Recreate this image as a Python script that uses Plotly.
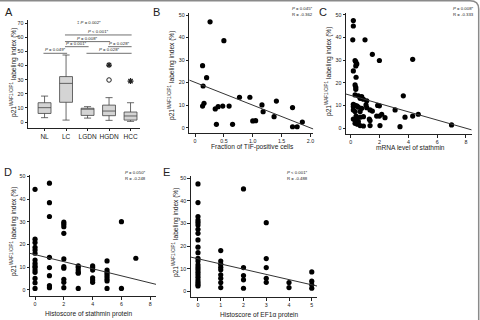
import plotly.graph_objects as go

# ---------------- DATA ----------------
A_groups = ["NL", "LC", "LGDN", "HGDN", "HCC"]
A_lower = [3.1, 1.4, 2.8, 1.2, 0.5]
A_q1 = [6.1, 14.0, 4.7, 4.5, 1.4]
A_median = [10.2, 27.4, 9.2, 7.8, 4.3]
A_q3 = [13.7, 32.2, 9.8, 12.0, 7.1]
A_upper = [18.4, 47.5, 10.9, 17.3, 13.7]
A_star_group = ["HGDN", "HCC"]
A_star_value = [40.4, 29.0]
A_circle_group = ["HGDN"]
A_circle_value = [29.8]
A_cmp_from = ["LC", "LC", "LC", "HGDN", "NL", "LGDN"]
A_cmp_to = ["HCC", "HGDN", "LGDN", "HCC", "LC", "HCC"]
A_cmp_label = ["P < 0.001*", "P = 0.008*", "P = 0.001*", "P = 0.028*", "P = 0.049*", "P = 0.028*"]
A_cmp_level = [61.7, 57.0, 53.4, 53.4, 48.7, 48.7]
A_top_label = "‡ P = 0.002*"
A_top_level = 70.2

B_x = [0.26, 0.50, 0.13, 0.20, 0.14, 0.155, 0.13, 0.35, 0.40, 0.48, 0.59, 0.37, 0.65,
       0.77, 0.95, 1.00, 1.05, 1.16, 1.18, 1.41, 1.37, 1.69, 1.69, 1.77, 1.86]
B_y = [47.0, 38.6, 27.5, 22.2, 18.5, 10.8, 9.6, 8.3, 9.3, 9.6, 9.6, 1.5, 1.5,
       13.5, 13.5, 3.0, 3.1, 10.1, 7.1, 11.8, 4.9, 8.9, 0.4, 0.4, 2.5]
B_fit = [20.1, -10.1]  # intercept, slope
B_stats = ["P = 0.045*", "R = -0.362"]

C_x = [0.18, 0.18, 0.14, 0.99, 1.50, 1.99, 4.30, 0.30, 0.35, 0.42, 0.35, 0.18, 0.37,
       0.30, 0.35, 0.35, 0.30, 0.53, 0.76, 3.65, 0.88, 0.65, 1.11, 0.18, 0.30, 0.42,
       0.18, 0.53, 0.76, 1.06, 1.11, 1.34, 1.50, 1.87, 1.99, 3.08, 0.18, 0.30, 0.65,
       0.37, 0.65, 0.88, 0.42, 0.18, 0.30, 0.53, 0.30, 0.46, 0.65, 0.88, 1.34, 1.29,
       1.34, 1.80, 1.99, 2.15, 2.38, 2.03, 3.42, 3.77, 4.30, 4.69, 7.00]
C_y = [47.5, 45.1, 39.0, 39.0, 32.6, 29.9, 30.4, 29.9, 29.3, 28.4, 27.5, 25.3, 22.5,
       19.1, 18.1, 17.2, 14.7, 14.3, 14.0, 14.3, 12.8, 13.2, 12.1, 10.6, 10.1, 9.9,
       9.6, 9.3, 8.8, 10.3, 9.1, 8.1, 7.6, 10.1, 9.9, 8.1, 8.1, 7.4, 7.4,
       5.4, 4.9, 5.1, 4.1, 4.1, 3.4, 2.9, 2.2, 1.8, 1.2, 1.0, 1.2, 4.1,
       3.4, 5.4, 5.4, 6.2, 4.7, 1.2, 0.7, 4.9, 5.4, 6.2, 1.5]
C_fit = [14.5, -1.81]
C_stats = ["P = 0.008*", "R = -0.333"]

D_x = [0] * 15 + [1] * 8 + [2] * 10 + [3] * 6 + [4] * 6 + [5] * 8 + [6] * 2 + [7]
D_y = [44.4, 22.4, 20.9, 18.8, 17.6, 16.2, 13.2, 11.8, 10.6, 10.0, 8.8, 7.8, 5.1, 3.2, 0.7,
       47.1, 38.5, 32.4, 14.4, 9.9, 6.3, 1.9, 1.0,
       29.9, 29.0, 27.9, 25.0, 13.7, 10.3, 9.6, 4.7, 3.4, 1.0,
       10.6, 9.9, 8.8, 7.8, 7.4, 0.7,
       10.6, 9.9, 8.8, 5.4, 4.4, 3.4,
       12.8, 8.8, 7.8, 6.9, 5.9, 4.9, 4.0, 0.7,
       30.1, 0.7,
       14.0]
D_fit = [15.6, -1.56]
D_stats = ["P = 0.050*", "R = -0.248"]

E_x = [0] * 23 + [1] * 9 + [2] * 5 + [3] * 5 + [4] * 2 + [5] * 4
E_y = [47.5, 39.3, 33.1, 31.6, 30.6, 29.4, 27.5, 25.7, 22.8, 19.6, 17.2, 14.7, 13.5,
       11.8, 10.6, 9.6, 8.5, 7.4, 6.3, 5.1, 4.1, 3.2, 2.5,
       18.1, 13.5, 12.1, 10.7, 9.6, 7.4, 5.9, 4.0, 1.8,
       45.3, 10.6, 7.1, 5.2, 1.5,
       30.4, 14.6, 10.6, 5.9, 4.1,
       4.0, 1.8,
       8.7, 4.6, 3.0, 1.5]
E_fit = [14.5, -2.3]
E_stats = ["P < 0.001*", "R = -0.488"]

Y_TITLE = "p21<sup>WAF1/CIP1</sup> labeling index (%)"

# ---------------- FIGURE ----------------
W, H = 480, 320
FONT = "Liberation Sans, Arial, sans-serif"
INK = "#222222"


def px(x):
    return x / W


def py(y):
    return 1 - y / H


fig = go.Figure()

panels = {
    # name: (x domain px, y domain px (top,bottom), xrange, yrange)
    "A": ((28, 140), (20, 127.7), [-0.77, 4.44], [-4.0, 72.3]),
    "B": ((189.3, 313.3), (13, 133.3), [-0.1, 2.05], [-2.5, 50.9]),
    "C": ((346, 471.7), (13.3, 134.3), [-0.33, 8.4], [-2.65, 50.7]),
    "D": ((30, 156), (175, 296), [-0.35, 8.4], [-2.65, 50.7]),
    "E": ((190.7, 317), (176, 297.3), [-0.32, 5.23], [-2.5, 51]),
}
axis_ids = {"A": "", "B": "2", "C": "3", "D": "4", "E": "5"}

base_axis = dict(showline=True, linecolor=INK, linewidth=1, ticks="outside",
                 ticklen=2.5, tickwidth=1, tickcolor=INK, showgrid=False,
                 zeroline=False, tickfont=dict(family=FONT, size=5.3, color=INK))

xticks = {
    "B": ([0, 0.5, 1.0, 1.5, 2.0], ["0", "0.5", "1.0", "1.5", "2.0"]),
    "C": ([0, 2, 4, 6, 8], ["0", "2", "4", "6", "8"]),
    "D": ([0, 2, 4, 6, 8], ["0", "2", "4", "6", "8"]),
    "E": ([0, 1, 2, 3, 4, 5], ["0", "1", "2", "3", "4", "5"]),
}

for name, (xd, yd, xr, yr) in panels.items():
    sid = axis_ids[name]
    xa = dict(base_axis, domain=[px(xd[0]), px(xd[1])], range=xr,
              anchor="y" + sid)
    ya = dict(base_axis, domain=[py(yd[1]), py(yd[0])], range=yr,
              anchor="x" + sid)
    if name == "A":
        xa.update(type="category", categoryorder="array", categoryarray=A_groups,
                  tickfont=dict(family=FONT, size=6.5, color=INK))
        ya.update(tickvals=list(range(0, 71, 10)))
    else:
        xa.update(tickvals=xticks[name][0], ticktext=xticks[name][1])
        ya.update(tickvals=list(range(0, 51, 10)))
    fig.layout["xaxis" + sid] = xa
    fig.layout["yaxis" + sid] = ya

# Panel A box plot
fig.add_trace(go.Box(
    x=A_groups, q1=A_q1, median=A_median, q3=A_q3,
    lowerfence=A_lower, upperfence=A_upper, boxpoints=False,
    fillcolor="#d4d4d4", line=dict(color="#444444", width=0.8),
    width=0.6, whiskerwidth=0.55, xaxis="x", yaxis="y", showlegend=False))
fig.add_trace(go.Scatter(
    x=A_star_group, y=A_star_value, mode="markers", xaxis="x", yaxis="y",
    marker=dict(symbol="asterisk-open", size=5, color=INK,
                line=dict(color=INK, width=1.2)),
    showlegend=False))
fig.add_trace(go.Scatter(
    x=A_circle_group, y=A_circle_value, mode="markers", xaxis="x", yaxis="y",
    marker=dict(symbol="circle-open", size=4.5, color=INK,
                line=dict(color=INK, width=1)),
    showlegend=False))

small = dict(family=FONT, size=4.3, color=INK)
for f, t, lab, lev in zip(A_cmp_from, A_cmp_to, A_cmp_label, A_cmp_level):
    i0, i1 = A_groups.index(f), A_groups.index(t)
    fig.add_shape(type="line", xref="x", yref="y", x0=i0 - 0.05, x1=i1 + 0.05,
                  y0=lev, y1=lev, line=dict(color="#333333", width=0.7))
    fig.add_annotation(x=(i0 + i1) / 2, y=lev, xref="x", yref="y",
                       text=lab.replace("P", "<i>P</i>", 1), showarrow=False,
                       xanchor="center", yanchor="bottom", font=small, yshift=-1)
fig.add_annotation(x=2.05, y=A_top_level, xref="x", yref="y",
                   text=A_top_label.replace("P", "<i>P</i>", 1), showarrow=False,
                   xanchor="center", yanchor="middle", font=small)

# Scatter panels
scatter = {"B": (B_x, B_y, B_fit, B_stats), "C": (C_x, C_y, C_fit, C_stats),
           "D": (D_x, D_y, D_fit, D_stats), "E": (E_x, E_y, E_fit, E_stats)}
stat_pos = {"B": (302, 12), "C": (463, 12), "D": (135, 175), "E": (297, 175)}
for name, (xs, ys, fit, stats) in scatter.items():
    sid = axis_ids[name]
    xr = panels[name][2]
    fig.add_trace(go.Scatter(
        x=xs, y=ys, mode="markers", xaxis="x" + sid, yaxis="y" + sid,
        marker=dict(color="black", size=5.2), showlegend=False))
    lx = [xr[0], xr[1]]
    ly = [fit[0] + fit[1] * v for v in lx]
    fig.add_trace(go.Scatter(
        x=lx, y=ly, mode="lines", xaxis="x" + sid, yaxis="y" + sid,
        line=dict(color="#333333", width=1), showlegend=False, cliponaxis=True))
    sx, sy = stat_pos[name]
    fig.add_annotation(x=px(sx), y=py(sy), xref="paper", yref="paper",
                       text=stats[0].replace("P", "<i>P</i>", 1) + "<br>" + stats[1],
                       showarrow=False, align="left", xanchor="center",
                       yanchor="middle", font=small)

# Panel letters
for letter, (lx, ly) in {"A": (9, 12), "B": (156, 12), "C": (323, 12),
                         "D": (8, 172), "E": (166, 172)}.items():
    fig.add_annotation(x=px(lx), y=py(ly), xref="paper", yref="paper", text=letter,
                       showarrow=False, xanchor="center", yanchor="middle",
                       font=dict(family=FONT, size=11, color=INK))

# Axis titles
tfont = dict(family=FONT, size=6.6, color=INK)
for (tx, ty) in [(13, 73), (171, 76), (328, 72), (13, 232), (175, 233)]:
    fig.add_annotation(x=px(tx), y=py(ty), xref="paper", yref="paper", text=Y_TITLE,
                       textangle=-90, showarrow=False, xanchor="center",
                       yanchor="middle", font=tfont)
for text, (tx, ty) in [("Fraction of TIF-positive cells", (252, 146.5)),
                       ("mRNA level of stathmin", (410, 147.5)),
                       ("Histoscore of stathmin protein", (89, 313.5)),
                       ("Histoscore of EF1α protein", (259, 314.5))]:
    fig.add_annotation(x=px(tx), y=py(ty), xref="paper", yref="paper", text=text,
                       showarrow=False, xanchor="center", yanchor="middle",
                       font=tfont)

# Figure frame (top and right border with rounded corner)
fig.add_shape(type="path", xref="paper", yref="paper",
              path=f"M 0,{py(0.8)} L {px(470)},{py(0.8)} Q {px(478.7)},{py(0.8)} "
                   f"{px(478.7)},{py(9)} L {px(478.7)},0",
              line=dict(color="#8a8a8a", width=1.5))

fig.update_layout(template="none", width=W, height=H,
                  margin=dict(l=0, r=0, t=0, b=0),
                  paper_bgcolor="white", plot_bgcolor="white",
                  font=dict(family=FONT, color=INK), showlegend=False)

fig.write_html("out.html")
